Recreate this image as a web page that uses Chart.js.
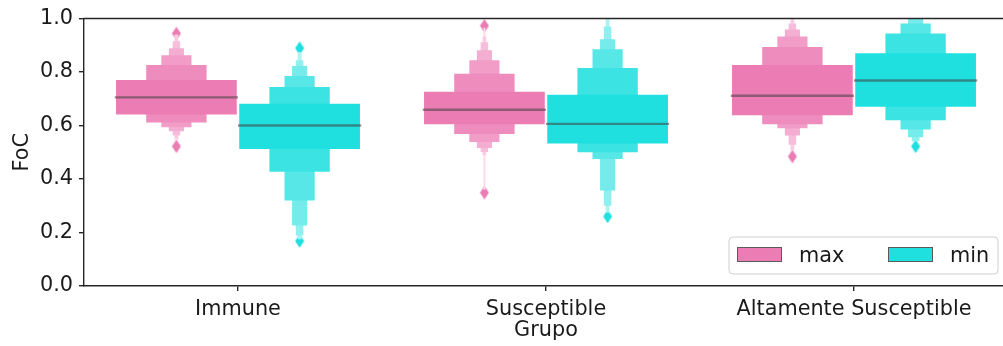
<!DOCTYPE html>
<html>
<head>
<meta charset="utf-8">
<script src="https://cdn.jsdelivr.net/npm/chart.js@4.4.1/dist/chart.umd.min.js"></script>
<style>
  html, body { margin: 0; padding: 0; background: #ffffff; overflow: hidden; width: 1003px; height: 346px; }
  #wrap { position: relative; width: 1008px; height: 346px; }
  canvas { display: block; }
</style>
</head>
<body>
<div id="wrap"><canvas id="chart" width="1008" height="346"></canvas></div>
<script>
// ---- data -------------------------------------------------------------
const categories = ['Immune', 'Susceptible', 'Altamente Susceptible'];
const hueNames = ['max', 'min'];
const hueColors = ['#EC7CB4', '#20DFDF'];
const yTicks = [0.0, 0.2, 0.4, 0.6, 0.8, 1.0];

// Letter-value boxes for each group, widest (IQR) first: [low, high]
const maxImmune      = [[0.641, 0.770], [0.611, 0.826], [0.593, 0.863], [0.578, 0.889], [0.563, 0.915], [0.548, 0.940]];
const maxSusceptible = [[0.605, 0.726], [0.568, 0.793], [0.538, 0.844], [0.516, 0.881], [0.501, 0.911], [0.489, 0.933], [0.360, 0.965]];
const maxAltamente   = [[0.638, 0.826], [0.605, 0.893], [0.590, 0.933], [0.563, 0.959], [0.528, 0.981], [0.507, 1.000]];
const minImmune      = [[0.512, 0.681], [0.427, 0.744], [0.320, 0.785], [0.226, 0.822], [0.189, 0.844], [0.175, 0.875]];
const minSusceptible = [[0.533, 0.715], [0.500, 0.815], [0.475, 0.885], [0.357, 0.922], [0.300, 0.970], [0.275, 1.000]];
const minAltamente   = [[0.670, 0.870], [0.620, 0.944], [0.585, 0.981], [0.556, 1.000], [0.541, 1.000]];

const medianMax = [0.705, 0.659, 0.711];
const medianMin = [0.600, 0.606, 0.768];

const outliersMax = [[0.944, 0.522], [0.973, 0.349], [0.484]];
const outliersMin = [[0.889, 0.168], [0.260], [0.522]];

// ---- styling helpers ------------------------------------------------
const FONT = 'DejaVu Sans';
const FONT_SIZE = 20.8;
const INK = '#1a1a1a';
const SPINE = '#262626';
const CAT_PCT = 0.8;                 // share of a category used by both hues
const levelShade = [0, 0.12, 0.25, 0.38, 0.5, 0.62, 0.72];

function mixWhite(hex, t) {
  const n = parseInt(hex.slice(1), 16);
  const r = (n >> 16) & 255, g = (n >> 8) & 255, b = n & 255;
  const f = c => Math.round(c + (255 - c) * t);
  return `rgb(${f(r)},${f(g)},${f(b)})`;
}

function diamond(color) {
  const c = document.createElement('canvas');
  c.width = 10; c.height = 14;
  const x = c.getContext('2d');
  x.fillStyle = color;
  x.beginPath();
  x.moveTo(5, 0.3); x.lineTo(9.5, 7); x.lineTo(5, 13.7); x.lineTo(0.5, 7);
  x.closePath(); x.fill();
  return c;
}

const boxesByHue = [
  [maxImmune, maxSusceptible, maxAltamente],
  [minImmune, minSusceptible, minAltamente]
];
const mediansByHue = [medianMax, medianMin];
const outliersByHue = [outliersMax, outliersMin];

// ---- datasets ---------------------------------------------------------
const datasets = [];

// median lines (drawn on top)
hueNames.forEach((hue, h) => {
  datasets.push({
    label: hue + ' median',
    stack: hue,
    order: 0,
    data: mediansByHue[h].map((m, i) => ({ x: i, y: [m - 0.0045, m + 0.0045] })),
    backgroundColor: 'rgba(64,64,64,0.55)',
    barPercentage: 1.0,
    categoryPercentage: CAT_PCT
  });
});

// nested letter-value boxes, wider ones drawn over narrower ones
const maxLevels = Math.max(...boxesByHue.flat().map(b => b.length));
for (let k = 0; k < maxLevels; k++) {
  hueNames.forEach((hue, h) => {
    const pts = [];
    boxesByHue[h].forEach((box, i) => { if (box[k]) pts.push({ x: i, y: box[k] }); });
    datasets.push({
      label: hue + ' level ' + (k + 1),
      stack: hue,
      order: k + 1,
      data: pts,
      backgroundColor: mixWhite(hueColors[h], levelShade[k]),
      barPercentage: 0.98 / Math.pow(2, k),
      categoryPercentage: CAT_PCT
    });
  });
}

// outliers as thin diamonds, positioned at each hue's slot centre
hueNames.forEach((hue, h) => {
  const offset = (h - 0.5) * CAT_PCT / hueNames.length;
  const pts = [];
  outliersByHue[h].forEach((vals, i) => vals.forEach(v => pts.push({ x: i + offset, y: v })));
  datasets.push({
    type: 'scatter',
    label: hue + ' outliers',
    stack: hue,
    grouped: false,
    order: 50,
    data: pts,
    pointStyle: diamond(hueColors[h]),
    pointRadius: 6,
    backgroundColor: hueColors[h],
    borderColor: hueColors[h]
  });
});

// ---- plugins ----------------------------------------------------------
const topSpine = {
  id: 'topSpine',
  afterDraw(chart) {
    const { ctx, chartArea } = chart;
    ctx.save();
    ctx.strokeStyle = SPINE;
    ctx.lineWidth = 1.4;
    ctx.beginPath();
    ctx.moveTo(chartArea.left - 0.7, chartArea.top);
    ctx.lineTo(chartArea.right + 1, chartArea.top);
    ctx.stroke();
    ctx.restore();
  }
};

const cornerLegend = {
  id: 'cornerLegend',
  afterDatasetsDraw(chart) {
    const { ctx, chartArea } = chart;
    const w = 269, hgt = 37, r = 4;
    const right = chartArea.right - 10, bottom = chartArea.bottom - 12;
    const left = right - w, top = bottom - hgt;
    ctx.save();
    ctx.beginPath();
    ctx.moveTo(left + r, top);
    ctx.arcTo(right, top, right, bottom, r);
    ctx.arcTo(right, bottom, left, bottom, r);
    ctx.arcTo(left, bottom, left, top, r);
    ctx.arcTo(left, top, right, top, r);
    ctx.closePath();
    ctx.fillStyle = 'rgba(255,255,255,0.8)';
    ctx.fill();
    ctx.strokeStyle = '#d0d0d0';
    ctx.lineWidth = 1;
    ctx.stroke();
    hueNames.forEach((name, i) => {
      const sx = left + 8 + i * 151;
      ctx.fillStyle = hueColors[i];
      ctx.fillRect(sx, top + 10, 45, 15);
      ctx.strokeStyle = '#5a5a5a';
      ctx.lineWidth = 1;
      ctx.strokeRect(sx + 0.5, top + 10.5, 44, 14);
      ctx.fillStyle = INK;
      ctx.font = FONT_SIZE + 'px "' + FONT + '"';
      ctx.textBaseline = 'alphabetic';
      ctx.textAlign = 'left';
      ctx.fillText(name, sx + 62, top + 25);
    });
    ctx.restore();
  }
};

// ---- chart ------------------------------------------------------------
Chart.defaults.font.family = FONT;
Chart.defaults.font.size = FONT_SIZE;
Chart.defaults.color = INK;

new Chart(document.getElementById('chart'), {
  type: 'bar',
  data: { datasets },
  options: {
    responsive: false,
    animation: false,
    layout: { autoPadding: false, padding: { top: 16, left: 0, right: 0, bottom: 0 } },
    plugins: { legend: { display: false }, tooltip: { enabled: false } },
    scales: {
      x: {
        type: 'linear',
        min: -0.5,
        max: 2.5,
        offset: false,
        grid: { display: true, offset: false, drawOnChartArea: false, drawTicks: true, tickLength: 5, color: SPINE, lineWidth: 1.4 },
        border: { display: true, color: SPINE, width: 1.4 },
        ticks: { padding: 6, color: INK, maxRotation: 0, autoSkip: false, callback: (v, i) => categories[i] },
        afterBuildTicks: s => { s.ticks = categories.map((c, i) => ({ value: i })); },
        title: { display: true, text: 'Grupo', color: INK, padding: { top: 0, bottom: 3 } },
        afterFit: s => { s.height = 60; s.paddingLeft = 0; s.paddingRight = 0; }
      },
      y: {
        type: 'linear',
        stacked: false,
        min: 0,
        max: 1,
        grid: { display: true, drawOnChartArea: false, drawTicks: true, tickLength: 5, color: SPINE, lineWidth: 1.4 },
        border: { display: true, color: SPINE, width: 1.4 },
        ticks: { padding: 6, color: INK, callback: v => Number(v).toFixed(1) },
        afterBuildTicks: s => { s.ticks = yTicks.map(v => ({ value: v })); },
        title: { display: true, text: 'FoC', color: INK, padding: { top: 10, bottom: 0 } },
        afterFit: s => { s.width = 84; }
      }
    }
  },
  plugins: [topSpine, cornerLegend]
});
</script>
</body>
</html>
